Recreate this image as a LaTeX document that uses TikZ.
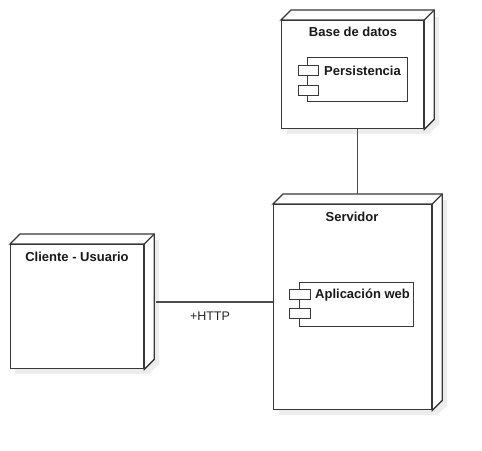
\documentclass[tikz,border=0pt]{standalone}
\usepackage{fontspec}
\setmainfont{Liberation Sans}
\usetikzlibrary{calc}
\begin{document}
\begin{tikzpicture}[x=1pt,y=-1pt,
  line/.style={draw=black!78,line width=1.3pt},
  front/.style={line,fill=white,rectangle,inner sep=0,anchor=north west},
  shadowc/.style={fill=black!7,draw=none},
  title/.style={font=\fontsize{13}{15}\selectfont\bfseries,inner sep=0,text=black!90},
  conn/.style={draw=black!70,line width=1.2pt},
  sub/.style={line,fill=white,rectangle,inner sep=0,anchor=north west,line width=1pt}]
\useasboundingbox (0,0) rectangle (482,450);
% ---------- shadows ----------
\fill[shadowc] (287,17) -- (439,17) -- (439,124) -- (429,134) -- (287,134) -- cycle;
\fill[shadowc] (279,200) -- (447,200) -- (447,405) -- (437,415) -- (279,415) -- cycle;
\fill[shadowc] (15,240) -- (159,240) -- (159,364) -- (149,374) -- (15,374) -- cycle;
\fill[shadowc] (314,64) rectangle (414,108);
\fill[shadowc] (306,289) rectangle (420,333);
% ---------- Base de datos ----------
\node[front,minimum width=142,minimum height=108] (bd) at (281,20) {};
\draw[line,fill=white] (bd.north west) -- ++(10,-10) -- ($(bd.north east)+(10,-10)$) -- ($(bd.south east)+(10,-10)$) -- (bd.south east) -- (bd.north east) -- cycle;
\draw[line] (bd.north east) -- ++(10,-10);
\node[front,minimum width=142,minimum height=108] at (281,20) {};
\node[title] (bdt) at (353,32) {Base de datos};
\node[sub,minimum width=100,minimum height=44] (per) at (307,57) {};
\node[sub,minimum width=20,minimum height=10,fill=white] (perA) at (298,65) {};
\node[sub,minimum width=20,minimum height=10,fill=white] (perB) at (298,85) {};
\node[title,anchor=west] (pert) at (324,71) {Persistencia};
% ---------- Servidor ----------
\node[front,minimum width=158,minimum height=205] (sv) at (273,204) {};
\draw[line,fill=white] (sv.north west) -- ++(10,-10) -- ($(sv.north east)+(10,-10)$) -- ($(sv.south east)+(10,-10)$) -- (sv.south east) -- (sv.north east) -- cycle;
\draw[line] (sv.north east) -- ++(10,-10);
\node[front,minimum width=158,minimum height=205] at (273,204) {};
\node[title] (svt) at (352,217) {Servidor};
\node[sub,minimum width=114,minimum height=44] (app) at (299,282) {};
\node[sub,minimum width=21,minimum height=10,fill=white] (appA) at (289,289) {};
\node[sub,minimum width=21,minimum height=10,fill=white] (appB) at (289,308) {};
\node[title,anchor=west] (appt) at (315,295) {Aplicación web};
% ---------- Cliente ----------
\node[front,minimum width=133,minimum height=124] (cl) at (10,244) {};
\draw[line,fill=white] (cl.north west) -- ++(10,-10) -- ($(cl.north east)+(10,-10)$) -- ($(cl.south east)+(10,-10)$) -- (cl.south east) -- (cl.north east) -- cycle;
\draw[line] (cl.north east) -- ++(10,-10);
\node[front,minimum width=133,minimum height=124] at (10,244) {};
\node[title] (clt) at (77,257) {Cliente - Usuario};
% ---------- connectors ----------
\coordinate (bdc) at ($(bd.south)+(5,0)$);
\coordinate (svc) at ($(sv.north)+(5,-10)$);
\draw[conn] (bdc) -- (svc);
\coordinate (clc) at ($(cl.north east)+(12,58)$);
\draw[conn] (clc) -- (clc -| sv.west);
\node[font=\fontsize{12.5}{15}\selectfont,inner sep=0,text=black!85] (http) at (210,316) {+HTTP};
\end{tikzpicture}
\end{document}
